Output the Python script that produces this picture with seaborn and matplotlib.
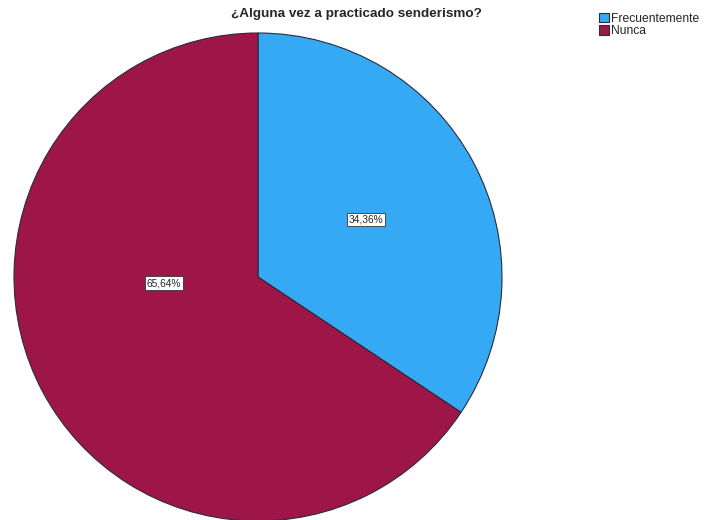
import matplotlib.pyplot as plt
import seaborn as sns

categorias = ["Frecuentemente", "Nunca"]
porcentajes = [34.36, 65.64]
colores = ["#36a9f4", "#9e1648"]

sns.set_style("white")
plt.rcParams["font.family"] = ["Liberation Sans", "DejaVu Sans"]

fig = plt.figure(figsize=(7.11, 5.2), dpi=100)
ax = fig.add_axes([14 / 711, -1 / 520, 488 / 711, 488 / 520])

wedges, textos, pcts = ax.pie(
    porcentajes,
    colors=colores,
    startangle=90,
    counterclock=False,
    radius=1,
    autopct=lambda v: f"{v:.2f}%".replace(".", ","),
    pctdistance=0.5,
    wedgeprops=dict(edgecolor="#2b2b3a", linewidth=0.8),
    textprops=dict(fontsize=7.3, color="#222222"),
)
# SPSS coloca la etiqueta grande más cerca del centro
pcts[1].set_position((-0.385, -0.025))
for t in pcts:
    t.set_bbox(dict(facecolor="white", edgecolor="#333333", linewidth=0.6, pad=1.2))

ax.set_xlim(-1, 1)
ax.set_ylim(-1, 1)
ax.set_aspect("equal")
ax.axis("off")

fig.suptitle("¿Alguna vez a practicado senderismo?", x=0.502, y=0.985,
             fontsize=9.7, fontweight="bold")
fig.legend(wedges, categorias, loc="upper left", bbox_to_anchor=(0.836, 0.985),
           frameon=False, fontsize=8.7, handlelength=0.8, handleheight=0.8,
           handletextpad=0.2, labelspacing=0.05, borderaxespad=0)

fig.savefig("out.png", dpi=100)
